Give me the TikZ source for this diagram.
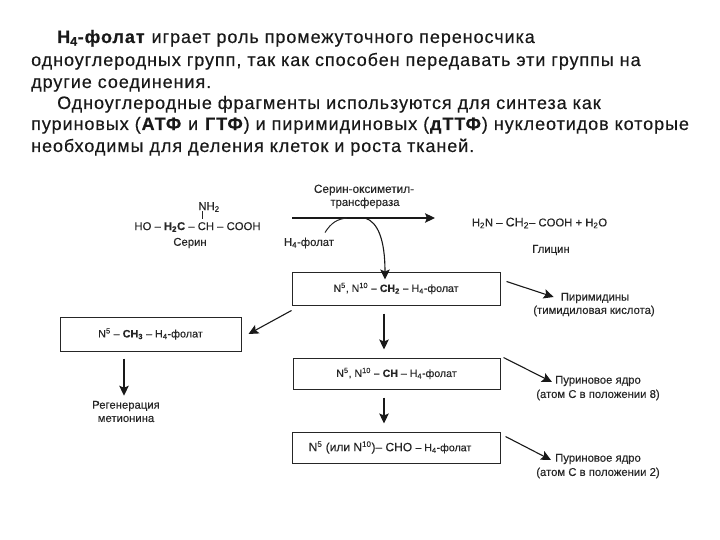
\documentclass[tikz,border=0pt]{standalone}
\usepackage{fontspec}
\setmainfont[FakeBold=0.2,BoldFeatures={FakeBold=0.3}]{Liberation Sans}
\newfontfamily\parafont[LetterSpace=5.2,FakeBold=0.4,BoldFeatures={FakeBold=0.6}]{Liberation Sans}
\usepackage{tikz}
\usetikzlibrary{arrows.meta}
\tikzset{
  para/.style={anchor=base west,inner sep=0pt,font=\parafont\fontsize{18}{18}\selectfont,text=black!90},
  lbl/.style={inner sep=0pt,font=\fontsize{11.3}{12}\selectfont,text=black!85},
  stepbox/.style={draw=black!85,line width=1pt,inner sep=0pt,text=black!85},
  arr/.style={-{Stealth[length=10pt,width=9.5pt,inset=2pt]},line width=1.1pt,black!90},
  wire/.style={line width=1pt,black!85},
}
\begin{document}
\begin{tikzpicture}[x=1pt,y=-1pt]
\useasboundingbox (0,0) rectangle (720,540);
%text on top
\node[para] (line1) at (57,43) {\textbf{H\textsubscript{4}-фолат} играет роль промежуточного переносчика};
\node[para] (line2) at (31,66) {одноуглеродных групп, так как способен передавать эти группы на};
\node[para] (line3) at (31,88) {другие соединения.};
\node[para] (line4) at (57,109) {Одноуглеродные фрагменты используются для синтеза как};
\node[para] (line5) at (31,130) {пуриновых (\textbf{АТФ} и \textbf{ГТФ}) и пиримидиновых (\textbf{дТТФ}) нуклеотидов которые};
\node[para] (line6) at (31,152) {необходимы для деления клеток и роста тканей.};
%boxes
\node[stepbox,minimum width=208pt,minimum height=33pt,font=\fontsize{10.6}{12}\selectfont] (ch2box) at (396,288.5) {N\textsuperscript{5}, N\textsuperscript{10} \textbf{– CH\textsubscript{2} –} H\textsubscript{4}-фолат};
\node[stepbox,minimum width=207pt,minimum height=31pt,font=\fontsize{10.6}{12}\selectfont] (chbox) at (396.5,373.5) {N\textsuperscript{5}, N\textsuperscript{10} \textbf{– CH} – H\textsubscript{4}-фолат};
\node[stepbox,minimum width=208pt,minimum height=31pt,font=\fontsize{12}{12}\selectfont] (chobox) at (396,447.5) {\hspace*{-12pt}N\textsuperscript{5} (или N\textsuperscript{10})– CHO {\fontsize{10.6}{12}\selectfont – H\textsubscript{4}-фолат}};
\node[stepbox,minimum width=181pt,minimum height=34pt,font=\fontsize{10.8}{12}\selectfont] (ch3box) at (150.5,334) {N\textsuperscript{5} – \textbf{CH\textsubscript{3}} – H\textsubscript{4}-фолат};
%serine and glycine
\node[lbl] (nh2) at (209,207) {NH\textsubscript{2}};
\node[lbl] (serine) at (197.5,227) {HO – \textbf{H\textsubscript{2}C} – CH – COOH};
\node[lbl] (serinename) at (190,243) {Серин};
\node[lbl] (glycine) at (539.5,223) {H\textsubscript{2}N – {\fontsize{12.5}{12}\selectfont CH\textsubscript{2}}– COOH + H\textsubscript{2}O};
\node[lbl] (glycinename) at (551,250) {Глицин};
%enzyme
\node[lbl,font=\fontsize{11.8}{12}\selectfont] (enzyme) at (364,190) {Серин-оксиметил-};
\node[lbl] (enzyme2) at (365,203) {трансфераза};
\node[lbl] (hfolate) at (309,243) {H\textsubscript{4}-фолат};
%products
\node[lbl] (pyrim) at (595,298) {Пиримидины};
\node[lbl] (pyrim2) at (594,311) {(тимидиловая кислота)};
\node[lbl] (purine) at (598,381) {Пуриновое ядро};
\node[lbl] (purine2) at (598,395) {(атом C в положении 8)};
\node[lbl] (purineb) at (598,459) {Пуриновое ядро};
\node[lbl] (purineb2) at (598,473) {(атом C в положении 2)};
\node[lbl] (regen) at (126,406) {Регенерация};
\node[lbl] (regen2) at (126,419) {метионина};
%free ends
\coordinate (mainstart) at (292,218);
\coordinate (mainend) at (435,218);
\coordinate (joinin) at (347,218);
\coordinate (joinout) at (365,218);
%arrows
\draw[arr] (mainstart) -- (mainend);
\draw[wire] (nh2.south -| 202,0) ++(0,-1) -- +(0,8);
\draw[wire] (hfolate.north) ++(16,-5) .. controls (331,223) and (337,219) .. (joinin);
\draw[arr] (joinout) .. controls (378,222) and (385,240) .. ([xshift=-11pt,yshift=-8pt]ch2box.north);
\draw[arr,shorten <=8pt,shorten >=8pt] (ch2box.south -| 384,0) -- (chbox.north -| 384,0);
\draw[arr,shorten <=8pt,shorten >=8pt] (chbox.south -| 384,0) -- (chobox.north -| 384,0);
\draw[arr] ([shift={(0,5)}]ch2box.south west) -- ([xshift=7pt]ch3box.east);
\draw[arr,shorten <=7pt,shorten >=5pt] (ch3box.south -| 124,0) -- (regen.north -| 124,0);
\draw[arr] ([shift={(6,10)}]ch2box.north east) -- ([shift={(-7,-1)}]pyrim.west);
\draw[arr] ([shift={(3,0)}]chbox.north east) -- ([shift={(-3,1)}]purine.west);
\draw[arr] ([shift={(5,5)}]chobox.north east) -- ([shift={(-4,1)}]purineb.west);
\end{tikzpicture}
\end{document}
